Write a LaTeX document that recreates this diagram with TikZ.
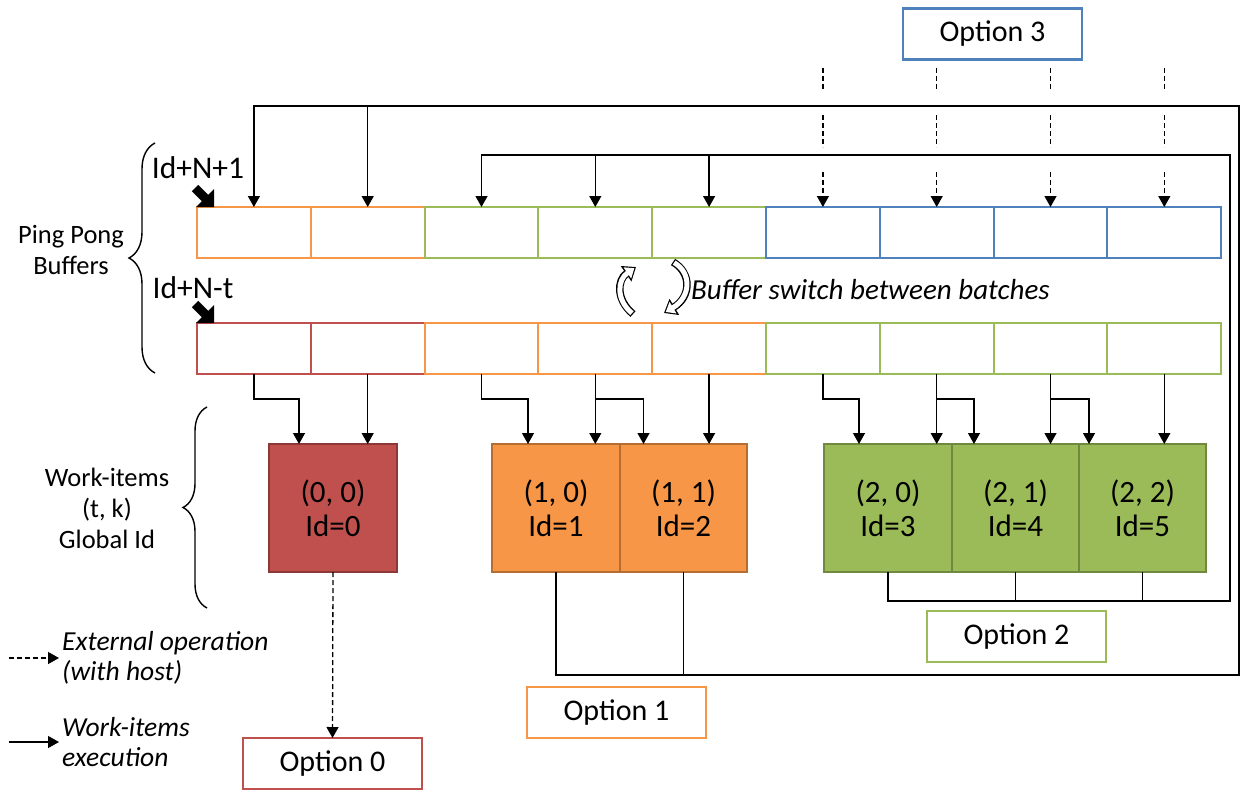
\documentclass[tikz,border=0pt]{standalone}
\usepackage{fontspec}
\setmainfont{Carlito}
\usetikzlibrary{arrows.meta,decorations.pathreplacing,calc}
\definecolor{cRed}{HTML}{C0504D}
\definecolor{cRedD}{HTML}{8C3836}
\definecolor{cOrange}{HTML}{F79646}
\definecolor{cOrangeD}{HTML}{B66D31}
\definecolor{cGreen}{HTML}{9BBB59}
\definecolor{cGreenD}{HTML}{71893F}
\definecolor{cBlue}{HTML}{4F81BD}
\begin{document}
\begin{tikzpicture}[x=1pt,y=-1pt,
  cell/.style={draw, line width=2pt, minimum width=113.8pt, minimum height=51pt, inner sep=0pt, outer sep=0pt},
  item/.style={draw, line width=2pt, minimum width=127.5pt, minimum height=128pt, inner sep=0pt, outer sep=0pt, align=center, font=\fontsize{31}{34}\selectfont},
  opt/.style={draw, fill=white, line width=2.5pt, minimum width=179pt, minimum height=51pt, inner sep=0pt, outer sep=0pt, font=\fontsize{30}{36}\selectfont},
  conn/.style={line width=1.3pt},
  arr/.style={conn, -{Triangle[length=11pt,width=12pt]}},
  ext/.style={arr, dash pattern=on 5pt off 3pt},
  dsh/.style={conn, dash pattern=on 5pt off 3pt},
  lbl/.style={align=center, inner sep=0pt, font=\fontsize{26.5}{31}\selectfont},
  leg/.style={align=left, inner sep=0pt, font=\fontsize{27.5}{30}\selectfont\itshape},
  idl/.style={inner sep=0pt, font=\fontsize{31.5}{36}\selectfont},
  brc/.style={decorate, line width=1.4pt},
  fat/.style={fill=black}
]
\useasboundingbox (0,0) rectangle (1242,790);

% ---------- buffers ----------
\foreach \i/\c in {0/cOrange,1/cOrange,2/cGreen,3/cGreen,4/cGreen,5/cBlue,6/cBlue,7/cBlue,8/cBlue}
  \node[cell, draw=\c] (u\i) at ({197+113.8*(\i+0.5)}, 232.5) {};
\foreach \i/\c in {0/cRed,1/cRed,2/cOrange,3/cOrange,4/cOrange,5/cGreen,6/cGreen,7/cGreen,8/cGreen}
  \node[cell, draw=\c] (l\i) at ({197+113.8*(\i+0.5)}, 348.5) {};

% ---------- work items ----------
\node[item, fill=cRed, draw=cRedD] (w0) at (333,508) {(0, 0)\\Id=0};
\node[item, fill=cOrange, draw=cOrangeD] (w1) at (556,508) {(1, 0)\\Id=1};
\node[item, fill=cOrange, draw=cOrangeD] (w2) at (683.5,508) {(1, 1)\\Id=2};
\node[item, fill=cGreen, draw=cGreenD] (w3) at (888,508) {(2, 0)\\Id=3};
\node[item, fill=cGreen, draw=cGreenD] (w4) at (1015.5,508) {(2, 1)\\Id=4};
\node[item, fill=cGreen, draw=cGreenD] (w5) at (1142.5,508) {(2, 2)\\Id=5};

% ---------- options ----------
\node[opt, draw=cBlue] (o3) at (992.5,34) {Option 3};
\node[opt, draw=cGreen] (o2) at (1016.5,636.5) {Option 2};
\node[opt, draw=cOrange] (o1) at (616.5,712.5) {Option 1};
\node[opt, draw=cRed] (o0) at (332.5,763.5) {Option 0};

% ---------- labels ----------
\node[idl] (idA) at (198,168) {Id+N+1};
\node[idl] (idB) at (193,288) {Id+N-t};
\node[lbl] (ppb) at (71,250) {Ping Pong\\Buffers};
\node[lbl] (wil) at (107,508) {Work-items\\(t, k)\\Global Id};
\node[leg, anchor=west] (lgE) at (62,658) {External operation\\(with host)};
\node[leg, anchor=west] (lgW) at (62,742) {Work-items\\execution};
\node[leg, anchor=west, font=\fontsize{29}{34}\selectfont\itshape] (bsw) at (691,290) {Buffer switch between batches};

% ---------- braces ----------
\draw[brc, decoration={brace, amplitude=26pt}] (155,373) -- (155,143);
\draw[brc, decoration={brace, amplitude=24pt}] (207,608) -- (207,407);

% ---------- fat pointer arrows ----------
\fill[fat] (u0.north west) ++(17,0) -- ++(0,-18) -- ++(-5.8,5.8) -- ++(-10,-10) -- ++(-6.4,6.4) -- ++(10,10) -- ++(-5.8,5.8) -- cycle;
\fill[fat] (l0.north west) ++(17,0) -- ++(0,-18) -- ++(-5.8,5.8) -- ++(-10,-10) -- ++(-6.4,6.4) -- ++(10,10) -- ++(-5.8,5.8) -- cycle;

% ---------- frame coordinates ----------
\coordinate (outerBR) at (1239,675);
\coordinate (outerTR) at (1239,106);
\coordinate (innerBR) at (1230,601);
\coordinate (innerTR) at (1230,155);

% ---------- option 1 loop (outer) ----------
\draw[arr] (w1.south) |- (outerBR) |- (u0.north |- outerTR) -- (u0.north);
\draw[conn] (w2.south) -- (w2.south |- outerBR);
\draw[arr] (u1.north |- outerTR) -- (u1.north);

% ---------- option 2 loop (inner) ----------
\draw[arr] (w3.south) |- (innerBR) |- (u2.north |- innerTR) -- (u2.north);
\draw[conn] (w4.south) -- (w4.south |- innerBR);
\draw[conn] (w5.south) -- (w5.south |- innerBR);
\draw[arr] (u3.north |- innerTR) -- (u3.north);
\draw[arr] (u4.north |- innerTR) -- (u4.north);

% ---------- option 3 (external) ----------
\foreach \i in {5,...,8} {
  \draw[dsh] ($(u\i.north |- o3.south)+(0,8)$) -- ($(u\i.north |- o3.south)+(0,29)$);
  \draw[dsh] ($(u\i.north |- outerTR)+(0,9)$) -- ($(u\i.north |- innerTR)+(0,-8)$);
  \draw[ext] ($(u\i.north |- innerTR)+(0,17)$) -- (u\i.north);
}

% ---------- option 0 ----------
\draw[ext] (w0.south) -- (o0.north);

% ---------- buffer -> work items ----------
\draw[arr] (l0.south) -- ++(0,25) -| ([xshift=-34pt]w0.north);
\draw[arr] (l1.south) -- (l1.south |- w0.north);
\draw[arr] (l2.south) -- ++(0,25) -| ([xshift=-28pt]w1.north);
\draw[arr] (l3.south) -- (l3.south |- w1.north);
\draw[arr] (l3.south) ++(0,25) -| ([xshift=-40pt]w2.north);
\draw[arr] (l4.south) -- (l4.south |- w2.north);
\draw[arr] (l5.south) -- ++(0,25) -| ([xshift=-29pt]w3.north);
\draw[arr] (l6.south) -- (l6.south |- w3.north);
\draw[arr] (l6.south) ++(0,25) -| ([xshift=-41.5pt]w4.north);
\draw[arr] (l7.south) -- (l7.south |- w4.north);
\draw[arr] (l7.south) ++(0,25) -| ([xshift=-53.5pt]w5.north);
\draw[arr] (l8.south) -- (l8.south |- w5.north);

% ---------- legend arrows ----------
\draw[ext] ([xshift=-53pt]lgE.west) -- ([xshift=-3pt]lgE.west);
\draw[arr] ([xshift=-53pt]lgW.west) -- ([xshift=-3pt]lgW.west);

% ---------- buffer switch arrows ----------
\draw[line width=7.5pt, -{Triangle[length=12pt,width=18pt]}] (633,314) .. controls (616,300) and (617,280) .. (636,267);
\draw[white, line width=5pt, shorten <=1.3pt, shorten >=2pt, -{Triangle[length=8.5pt,width=13pt]}] (633,314) .. controls (616,300) and (617,280) .. (636,267);
\draw[line width=7.5pt, -{Triangle[length=12pt,width=18pt]}] (673,262) .. controls (692,273) and (691,297) .. (664,313);
\draw[white, line width=5pt, shorten <=1.3pt, shorten >=2pt, -{Triangle[length=8.5pt,width=13pt]}] (673,262) .. controls (692,273) and (691,297) .. (664,313);
\end{tikzpicture}
\end{document}
